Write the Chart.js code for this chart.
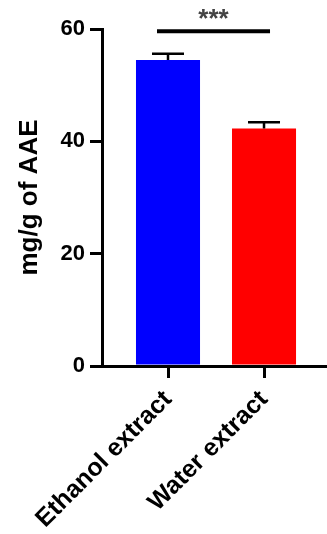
<!DOCTYPE html>
<html>
<head>
<meta charset="utf-8">
<script src="https://cdn.jsdelivr.net/npm/chart.js@4"></script>
<style>
  html, body { margin: 0; padding: 0; background: #fff; overflow: hidden; }
  #wrap { width: 327px; height: 534px; }
</style>
</head>
<body>
<div id="wrap"><canvas id="chart"></canvas></div>
<script>
// Data
const categories = ["Ethanol extract", "Water extract"];
const means = [54.5, 42.3];
const errors = [1.1, 1.1];
const barColors = ["#0000ff", "#ff0000"];
const yTicks = [0, 20, 40, 60];
const significance = "***";

const FONT = "'Liberation Sans', Arial, sans-serif";

// Error bars (upper half only, Prism style)
const errorBars = {
  id: "errorBars",
  afterDatasetsDraw(chart) {
    const ctx = chart.ctx;
    const y = chart.scales.y;
    const meta = chart.getDatasetMeta(0);
    ctx.save();
    ctx.strokeStyle = "#000";
    ctx.lineWidth = 2.5;
    meta.data.forEach((bar, i) => {
      const top = y.getPixelForValue(means[i] + errors[i]);
      ctx.beginPath();
      ctx.moveTo(bar.x, bar.y);
      ctx.lineTo(bar.x, top);
      ctx.moveTo(bar.x - 16, top);
      ctx.lineTo(bar.x + 16, top);
      ctx.stroke();
    });
    ctx.restore();
  }
};

// Significance line with stars
const sigBar = {
  id: "sigBar",
  afterDraw(chart) {
    const ctx = chart.ctx;
    const y = chart.scales.y;
    const meta = chart.getDatasetMeta(0);
    const x1 = meta.data[0].x - 11;
    const x2 = meta.data[1].x + 6;
    const ly = y.getPixelForValue(59.6);
    ctx.save();
    ctx.strokeStyle = "#000";
    ctx.lineWidth = 4;
    ctx.beginPath();
    ctx.moveTo(x1, ly);
    ctx.lineTo(x2, ly);
    ctx.stroke();
    ctx.fillStyle = "#444";
    ctx.font = "bold 26px " + FONT;
    ctx.textAlign = "center";
    ctx.textBaseline = "middle";
    ctx.fillText(significance, (x1 + x2) / 2, y.getPixelForValue(61.7));
    ctx.restore();
  }
};

new Chart(document.getElementById("chart"), {
  type: "bar",
  data: {
    datasets: [{
      data: means.map((m, i) => ({ x: i, y: m })),
      backgroundColor: barColors,
      borderWidth: 0,
      categoryPercentage: 1,
      barPercentage: 0.667
    }]
  },
  options: {
    responsive: true,
    maintainAspectRatio: false,
    animation: false,
    layout: { padding: { top: 29, left: 0, right: 0, bottom: 0 } },
    plugins: { legend: { display: false }, tooltip: { enabled: false } },
    scales: {
      x: {
        type: "linear",
        min: -0.6875,
        max: 1.656,
        offset: false,
        afterFit(scale) { scale.height = 168; },
        afterBuildTicks(scale) { scale.ticks = categories.map((c, i) => ({ value: i })); },
        grid: { offset: false, drawOnChartArea: false, drawTicks: true, tickLength: 12, color: "#000", lineWidth: 3 },
        border: { display: true, color: "#000", width: 3 },
        ticks: {
          color: "#000",
          minRotation: 45,
          maxRotation: 45,
          autoSkip: false,
          padding: 7,
          callback: (v) => categories[v],
          font: { family: FONT, size: 25, weight: "bold" }
        }
      },
      y: {
        min: 0,
        max: 60,
        afterFit(scale) { scale.width = 102; },
        afterBuildTicks(scale) { scale.ticks = yTicks.map(v => ({ value: v })); },
        grid: { drawOnChartArea: false, drawTicks: true, tickLength: 12, color: "#000", lineWidth: 3 },
        border: { display: true, color: "#000", width: 3 },
        ticks: {
          color: "#000",
          padding: 5,
          font: { family: FONT, size: 22, weight: "bold" }
        },
        title: {
          display: true,
          text: "mg/g of AAE",
          color: "#000",
          padding: { top: 14, bottom: 0 },
          font: { family: FONT, size: 26, weight: "bold" }
        }
      }
    }
  },
  plugins: [errorBars, sigBar]
});
</script>
</body>
</html>
